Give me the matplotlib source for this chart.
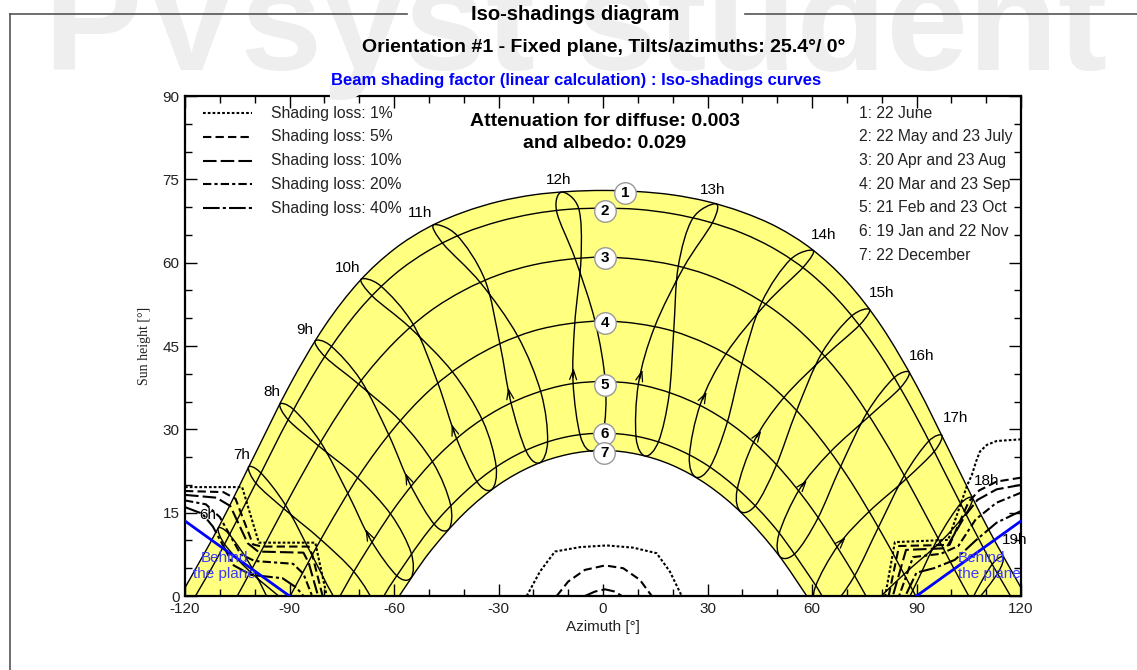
import numpy as np
import matplotlib
matplotlib.use("Agg")
import matplotlib.pyplot as plt
from matplotlib.path import Path
from matplotlib.patches import PathPatch
from matplotlib.lines import Line2D
from matplotlib.ticker import MultipleLocator

plt.rcParams["font.family"] = ["Liberation Sans", "DejaVu Sans"]
plt.rcParams["axes.unicode_minus"] = False

# ---- sun paths (azimuth, height) for the 7 date curves ----
d1_az = [-121.5, -120, -110, -100, -90, -80, -70, -60, -50, -40, -30, -20, -10, 0,
         10, 20, 30, 40, 50, 60, 70, 80, 90, 100, 110, 120, 121.5]
d1_h = [0, 1.5, 12.8, 25.4, 37.9, 48.5, 56.6, 62.4, 66.4, 69.1, 71.0, 72.2, 72.8, 73.0,
        72.8, 72.2, 71.0, 69.1, 66.4, 62.4, 56.6, 48.5, 37.9, 25.4, 12.8, 1.5, 0]
d2_az = [-117.0, -110, -100, -90, -80, -70, -60, -50, -40, -30, -20, -10, 0,
         10, 20, 30, 40, 50, 60, 70, 80, 90, 100, 110, 117.0]
d2_h = [0, 7.7, 19.9, 32.2, 43.0, 51.5, 57.8, 62.2, 65.3, 67.4, 68.8, 69.6, 69.8,
        69.6, 68.8, 67.4, 65.3, 62.2, 57.8, 51.5, 43.0, 32.2, 19.9, 7.7, 0]
d3_az = [-105.0, -100, -90, -80, -70, -60, -50, -40, -30, -20, -10, 0,
         10, 20, 30, 40, 50, 60, 70, 80, 90, 100, 105.0]
d3_h = [0, 5.8, 17.7, 28.8, 38.3, 45.6, 51.1, 55.0, 57.8, 59.6, 60.6, 61.0,
        60.6, 59.6, 57.8, 55.0, 51.1, 45.6, 38.3, 28.8, 17.7, 5.8, 0]
d4_az = [-89.8, -80, -70, -60, -50, -40, -30, -20, -10, 0,
         10, 20, 30, 40, 50, 60, 70, 80, 89.8]
d4_h = [0, 11.3, 21.7, 30.2, 36.9, 41.8, 45.3, 47.7, 49.0, 49.5,
        49.0, 47.7, 45.3, 41.8, 36.9, 30.2, 21.7, 11.3, 0]
d5_az = [-75.5, -70, -60, -50, -40, -30, -20, -10, 0, 10, 20, 30, 40, 50, 60, 70, 75.5]
d5_h = [0, 6.0, 15.7, 23.5, 29.4, 33.6, 36.4, 38.1, 38.6, 38.1, 36.4, 33.6, 29.4, 23.5,
        15.7, 6.0, 0]
d6_az = [-62.9, -60, -50, -40, -30, -20, -10, 0, 10, 20, 30, 40, 50, 60, 62.9]
d6_h = [0, 2.9, 11.8, 18.5, 23.5, 26.8, 28.7, 29.3, 28.7, 26.8, 23.5, 18.5, 11.8, 2.9, 0]
d7_az = [-58.5, -50, -40, -30, -20, -10, 0, 10, 20, 30, 40, 50, 58.5]
d7_h = [0, 7.7, 14.8, 20.0, 23.5, 25.5, 26.2, 25.5, 23.5, 20.0, 14.8, 7.7, 0]

# ---- hour lines: one point per date, in yearly order
# 22 Jun, 22 May, 20 Apr, 20 Mar, 21 Feb, 19 Jan, 22 Dec, 22 Nov, 23 Oct, 23 Sep, 23 Aug, 23 Jul
hours = [6, 7, 8, 9, 10, 11, 12, 13, 14, 15, 16, 17, 18, 19]
hour_az = [
    [-110.5, -107.3, -100.7, -93.3, -86.2, -77.7, -73.5, -74.4, -81.0, -90.9, -101.2, -108.5],
    [-101.8, -98.3, -91.2, -83.5, -76.6, -68.7, -64.6, -65.2, -71.3, -81.1, -91.6, -99.5],
    [-92.8, -88.9, -81.1, -73.2, -66.6, -59.1, -55.0, -55.1, -60.8, -70.5, -81.6, -90.2],
    [-82.7, -78.1, -69.5, -61.5, -55.3, -48.3, -44.2, -43.8, -48.7, -58.3, -70.1, -79.7],
    [-69.5, -63.8, -54.5, -47.4, -42.2, -36.1, -31.9, -30.7, -34.5, -43.3, -55.4, -66.1],
    [-48.7, -41.9, -33.9, -29.6, -26.5, -22.0, -18.1, -15.9, -17.8, -24.5, -35.2, -45.9],
    [-11.9, -7.0, -6.3, -8.1, -8.6, -6.5, -3.1, 0.1, 0.7, -2.3, -8.0, -13.3],
    [32.4, 31.5, 23.2, 14.8, 10.2, 9.5, 12.2, 16.0, 19.0, 20.3, 21.6, 25.7],
    [60.3, 57.5, 46.8, 35.3, 28.0, 24.8, 26.6, 30.8, 35.6, 39.9, 45.6, 53.7],
    [76.5, 73.7, 63.8, 51.9, 43.4, 38.5, 39.5, 43.9, 49.6, 55.6, 62.8, 71.2],
    [87.9, 85.4, 76.5, 65.2, 56.4, 50.5, 50.8, 55.2, 61.6, 68.3, 75.8, 83.4],
    [97.3, 95.2, 87.1, 76.4, 67.5, 61.0, 60.9, 65.2, 72.0, 79.1, 86.5, 93.4],
    [106.0, 104.2, 96.8, 86.4, 77.4, 70.4, 70.0, 74.5, 81.7, 89.0, 96.1, 102.5],
    [114.9, 113.3, 106.3, 96.2, 87.0, 79.4, 78.7, 83.5, 91.3, 98.8, 105.7, 111.6]]
hour_h = [
    [12.2, 11.1, 5.0, -4.1, -12.1, -17.6, -17.1, -12.8, -6.9, -1.2, 4.3, 9.2],
    [23.2, 22.2, 16.4, 7.3, -0.8, -6.7, -6.5, -2.1, 4.2, 10.2, 15.7, 20.2],
    [34.5, 33.6, 27.7, 18.4, 10.0, 3.6, 3.4, 7.8, 14.6, 21.3, 27.0, 31.6],
    [45.9, 45.0, 38.8, 29.0, 20.0, 12.8, 12.1, 16.5, 23.9, 31.6, 38.1, 43.0],
    [57.0, 55.8, 48.9, 38.3, 28.6, 20.5, 19.2, 23.4, 31.5, 40.4, 48.3, 53.9],
    [66.8, 64.9, 56.9, 45.4, 35.0, 26.0, 24.0, 27.9, 36.6, 46.8, 56.4, 63.4],
    [72.7, 69.8, 60.9, 49.1, 38.5, 28.8, 26.1, 29.5, 38.3, 49.5, 60.7, 69.2],
    [70.6, 67.3, 59.2, 48.4, 38.3, 28.5, 25.2, 27.9, 36.3, 47.7, 59.3, 67.9],
    [62.2, 59.2, 52.6, 43.6, 34.6, 25.2, 21.4, 23.3, 31.1, 41.9, 52.9, 60.5],
    [51.6, 48.8, 43.2, 35.7, 27.9, 19.1, 15.2, 16.4, 23.3, 33.4, 43.7, 50.3],
    [40.3, 37.5, 32.4, 25.9, 19.2, 11.1, 7.1, 7.7, 13.9, 23.4, 33.0, 39.2],
    [28.9, 26.1, 21.1, 15.2, 9.1, 1.7, -2.4, -2.2, 3.4, 12.4, 21.7, 27.8],
    [17.7, 14.9, 9.7, 3.9, -1.8, -8.7, -12.8, -12.9, -7.7, 1.1, 10.3, 16.5],
    [7.0, 4.1, -1.5, -7.5, -13.1, -19.7, -23.8, -24.1, -19.1, -10.3, -0.9, 5.6]]
hour_lbl_az = [-113.6, -103.7, -95.0, -85.6, -73.2, -52.4, -12.6, 31.6, 63.2, 80.1, 91.6, 101.1, 110.0, 118.3]
hour_lbl_h = [14.6, 25.4, 36.7, 47.9, 59.0, 68.9, 74.9, 73.1, 65.0, 54.5, 43.2, 32.0, 20.7, 10.1]

# ---- iso-shading curves (left obstacle, right obstacle, near south) ----
losses = ["1%", "5%", "10%", "20%", "40%"]
left_az = [
    [-120, -103.6, -98.8, -82.6, -79.3],
    [-120, -109, -105.5, -100.5, -98, -84.5, -83.5, -80.5],
    [-120, -111, -107, -102, -99, -86, -84.5, -81.8],
    [-120, -114, -110, -104, -100, -89, -86, -83.5],
    [-120, -115, -112, -106, -101, -92, -88, -86]]
left_h = [
    [19.6, 19.6, 9.6, 9.6, 0],
    [18.9, 18.7, 17.5, 9.3, 8.9, 8.9, 7.5, 0],
    [18.2, 17.7, 16.2, 9.5, 8.0, 7.8, 6.0, 0],
    [17.2, 16.5, 14.2, 7.5, 6.3, 5.8, 4.0, 0],
    [16.0, 14.8, 12.5, 5.5, 3.8, 3.2, 1.5, 0]]
right_az = [
    [120, 113.0, 110.2, 108.2, 107.1, 105.9, 104.6, 99.1, 83.8, 81.0],
    [120, 113, 108, 105, 99.5, 85, 82],
    [120, 113, 107.5, 104, 98.5, 87, 83.2],
    [120, 113, 107, 102, 97, 89, 85],
    [120, 113, 107, 101, 95, 90, 86.8]]
right_h = [
    [28.2, 27.9, 27.2, 26.0, 24.2, 21.8, 20.0, 10.1, 9.7, 0],
    [21.3, 20.6, 19.0, 17.0, 9.2, 9.0, 0],
    [20.0, 19.2, 17.3, 14.5, 8.6, 8.3, 0],
    [18.6, 16.8, 13.8, 9.0, 7.6, 7.0, 0],
    [15.3, 13.2, 10.0, 6.5, 5.0, 4.2, 0]]
south_az = [
    [-21.9, -18.1, -13.8, -6.6, 1.1, 8.7, 15.4, 19.2, 22.6],
    [-13.3, -10.0, -5.2, 0.6, 5.8, 10.6, 14.0],
    [-5.2, -2.3, 0.6, 3.4, 5.4]]
south_h = [
    [0, 4.4, 8.0, 8.8, 9.1, 8.7, 7.7, 4.4, 0],
    [0, 2.6, 4.7, 5.5, 5.0, 2.9, 0],
    [0, 0.8, 1.2, 0.8, 0]]
styles = [(0, (1.3, 1.0)), (0, (4, 2)), (0, (6.5, 2)), (0, (4, 1.5, 1.5, 1.5)), (0, (8, 1.5, 1.5, 1.5))]

behind_left_az = [-120, -90]
behind_left_h = [13.5, 0]
behind_right_az = [90, 120]
behind_right_h = [0, 13.5]

date_labels = ["1: 22 June", "2: 22 May and 23 July", "3: 20 Apr and 23 Aug", "4: 20 Mar and 23 Sep",
               "5: 21 Feb and 23 Oct", "6: 19 Jan and 22 Nov", "7: 22 December"]
num_az = [6.3, 0.6, 0.6, 0.6, 0.6, 0.4, 0.4]
num_h = [72.6, 69.3, 60.8, 49.1, 38.0, 29.1, 25.8]


def smooth(xs, ys, closed=False):
    pts = np.column_stack([xs, ys]).astype(float)
    n = len(pts)
    if closed:
        P = np.vstack([pts[-1], pts, pts[0], pts[1]])
        segs = n
    else:
        P = np.vstack([pts[0], pts, pts[-1]])
        segs = n - 1
    verts = [P[1]]
    codes = [Path.MOVETO]
    for i in range(segs):
        p0, p1, p2, p3 = P[i], P[i + 1], P[i + 2], P[i + 3]
        verts += [p1 + (p2 - p0) / 6, p2 - (p3 - p1) / 6, p2]
        codes += [Path.CURVE4] * 3
    return verts, codes


fig = plt.figure(figsize=(11.37, 6.70), dpi=100)

# watermark, frame and titles
fig.text(44 / 1137, 1 - 70 / 670, "PVsyst student", fontsize=106, fontweight="bold",
         color="#eeeeee", ha="left", va="baseline", zorder=0)
for xs, ys in [([10, 407], [14, 14]), ([745, 1137], [14, 14]), ([10, 10], [14, 670])]:
    fig.add_artist(Line2D([x / 1137 for x in xs], [1 - y / 670 for y in ys], color="#555555", lw=1.2))
fig.text(575 / 1137, 1 - 14 / 670, "Iso-shadings diagram", ha="center", va="center",
         fontsize=14.5, fontweight="bold")
fig.text(604 / 1137, 1 - 47 / 670, "Orientation #1 - Fixed plane, Tilts/azimuths: 25.4°/ 0°",
         ha="center", va="center", fontsize=14, fontweight="bold")
fig.text(576 / 1137, 1 - 80 / 670, "Beam shading factor (linear calculation) : Iso-shadings curves",
         ha="center", va="center", fontsize=12, fontweight="bold", color="#0000ff")

ax = fig.add_axes([185 / 1137, 74 / 670, 836 / 1137, 500 / 670])
ax.set_xlim(-120, 120)
ax.set_ylim(0, 90)

# yellow band between 22 June and 22 December
v1, c1 = smooth(d1_az, d1_h)
v7, c7 = smooth(d7_az[::-1], d7_h[::-1])
verts = v1 + v7 + [v1[0]]
codes = c1 + [Path.LINETO] + c7[1:] + [Path.CLOSEPOLY]
ax.add_patch(PathPatch(Path(verts, codes), facecolor="#ffff80", edgecolor="none", zorder=1))

for az, h in [(d1_az, d1_h), (d2_az, d2_h), (d3_az, d3_h), (d4_az, d4_h),
              (d5_az, d5_h), (d6_az, d6_h), (d7_az, d7_h)]:
    v, c = smooth(az, h)
    ax.add_patch(PathPatch(Path(v, c), fill=False, edgecolor="black", lw=1.0, zorder=2))

for i, hr in enumerate(hours):
    v, c = smooth(hour_az[i], hour_h[i], closed=True)
    ax.add_patch(PathPatch(Path(v, c), fill=False, edgecolor="black", lw=1.0, zorder=2))
    # small arrow on the Feb -> Mar branch
    if hour_h[i][4] > 2:
        p5 = np.array([hour_az[i][4], hour_h[i][4]])
        p4 = np.array([hour_az[i][3], hour_h[i][3]])
        ax.annotate("", xy=p5 + 0.24 * (p4 - p5), xytext=p5 + 0.08 * (p4 - p5),
                    arrowprops=dict(arrowstyle="->,head_length=0.7,head_width=0.25", lw=0.9,
                                    color="black", shrinkA=0, shrinkB=0), zorder=3)
    ax.text(hour_lbl_az[i], hour_lbl_h[i], "%dh" % hr, ha="center", va="center",
            fontsize=11, zorder=4)

# iso-shading curves
for k in range(5):
    ax.plot(left_az[k], left_h[k], color="black", lw=1.5, linestyle=styles[k], zorder=3)
    ax.plot(right_az[k], right_h[k], color="black", lw=1.5, linestyle=styles[k], zorder=3)
for k in range(3):
    ax.plot(south_az[k], south_h[k], color="black", lw=1.5, linestyle=styles[k], zorder=3)

ax.plot(behind_left_az, behind_left_h, color="#0000ff", lw=2, zorder=3)
ax.plot(behind_right_az, behind_right_h, color="#0000ff", lw=2, zorder=3)
ax.text(-108.8, 5.4, "Behind\nthe plane", color="#3a3aff", fontsize=11, ha="center",
        va="center", linespacing=1.1, zorder=4)
ax.text(101.9, 5.4, "Behind\nthe plane", color="#3a3aff", fontsize=11, ha="left",
        va="center", linespacing=1.1, zorder=4)

# date numbers
for i in range(7):
    ax.plot(num_az[i], num_h[i], "o", ms=15.5, mfc="white", mec="#999999", mew=1, zorder=5)
    ax.text(num_az[i], num_h[i], str(i + 1), ha="center", va="center", fontsize=11,
            fontweight="bold", zorder=6)

# legends
rows_left = [113.3, 136.7, 160.7, 184.3, 208.3]
for k in range(5):
    yy = (596 - rows_left[k]) / 500
    ax.plot([0.0215, 0.0801], [yy, yy], transform=ax.transAxes, color="black", lw=1.5,
            linestyle=styles[k], zorder=4)
    ax.text(0.1029, yy, "Shading loss: " + losses[k], transform=ax.transAxes, fontsize=11.3,
            ha="left", va="center", color="#222222", zorder=4)
rows_right = [113.3, 136.7, 160.7, 184.3, 207.7, 231.7, 255.7]
for k in range(7):
    ax.text(0.806, (596 - rows_right[k]) / 500, date_labels[k], transform=ax.transAxes,
            fontsize=11.3, ha="left", va="center", color="#222222", zorder=4)

ax.text(0.5024, 0.950, "Attenuation for diffuse: 0.003", transform=ax.transAxes, fontsize=14,
        fontweight="bold", ha="center", va="center", zorder=4)
ax.text(0.5024, 0.904, "and albedo: 0.029", transform=ax.transAxes, fontsize=14,
        fontweight="bold", ha="center", va="center", zorder=4)

# axes styling
ax.set_xticks(range(-120, 121, 30))
ax.set_yticks(range(0, 91, 15))
ax.xaxis.set_minor_locator(MultipleLocator(10))
ax.yaxis.set_minor_locator(MultipleLocator(5))
ax.tick_params(which="both", direction="in", top=True, right=True, width=1, colors="black",
               labelcolor="#222222", labelsize=11)
ax.tick_params(which="major", length=8.5, pad=4)
ax.tick_params(which="minor", length=5)
for s in ax.spines.values():
    s.set_linewidth(1.6)
ax.set_xlabel("Azimuth [°]", fontsize=11, color="#222222", labelpad=3)
ax.set_ylabel("Sun height [°]", fontsize=10, family="Liberation Serif", color="#222222")
ax.yaxis.set_label_coords(-(185 - 151) / 836, 0.5)

fig.savefig("out.png", dpi=100)
